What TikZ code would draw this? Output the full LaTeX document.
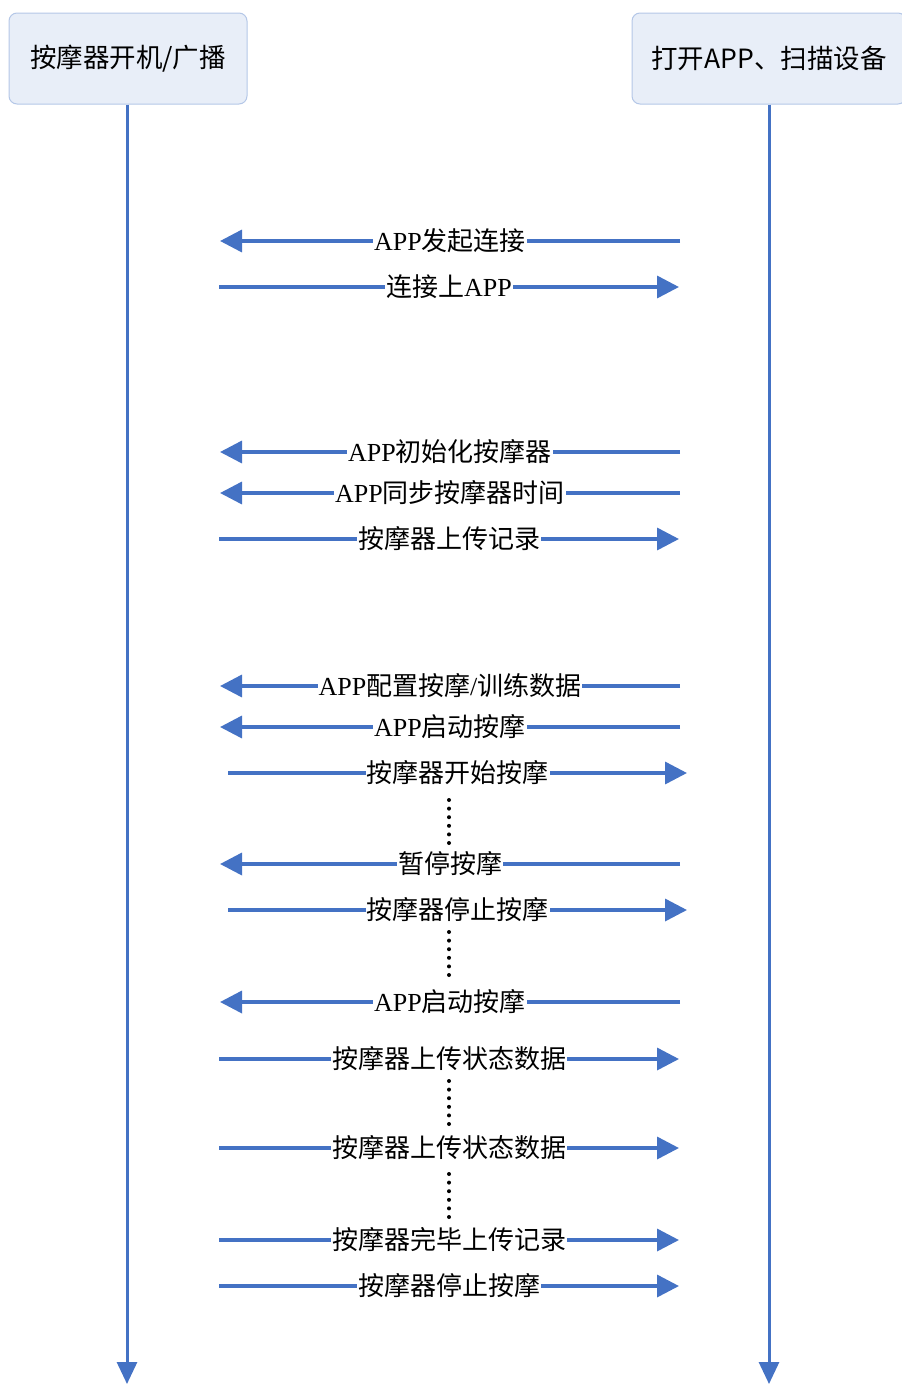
\documentclass[tikz,border=0pt]{standalone}
\usepackage{fontspec}
\setmainfont{Liberation Serif}
\newfontfamily\cjk{Noto Sans CJK SC}
\usetikzlibrary{arrows.meta}
\definecolor{lane}{HTML}{4472C4}
\definecolor{boxfill}{HTML}{E8EEF8}
\definecolor{boxline}{HTML}{B4C7E7}
\tikzset{box/.style={draw=boxline,fill=boxfill,rounded corners=8pt,line width=1pt,
  minimum height=91pt,font=\cjk\fontsize{26.5}{26.5}\selectfont}}
\tikzset{life/.style={draw=lane,line width=3pt,-{Triangle[length=22pt,width=20pt]}}}
\tikzset{msg/.style={draw=lane,line width=3.5pt,-{Triangle[length=22pt,width=22pt]}}}
\tikzset{lab/.style={fill=white,inner sep=1pt,font=\fontsize{26}{26}\selectfont}}
\tikzset{dots/.style={line width=4pt,line cap=round,dash pattern=on 0pt off 8.6pt}}

\begin{document}
\begin{tikzpicture}
  [x=1pt,y=-1pt]
  \useasboundingbox (0,0) rectangle (902,1384);
  % heads
  \node[box,minimum width=238pt] (dev) at (128,58.5) {按摩器开机/广播};
  \node[box,minimum width=274pt] (app) at (769,58.5) {打开APP、扫描设备};
  \coordinate (devend) at (127,1384);
  \coordinate (append) at (769,1384);
  \draw[life] (dev.south -| devend) -- (devend);
  \draw[life] (app.south -| append) -- (append);

  % connect
  \coordinate (a1) at (680,241); \coordinate (b1) at (220,241);
  \draw[msg] (a1) -- node[lab] {APP{\cjk 发起连接}} (b1);
  \coordinate (a2) at (219,287); \coordinate (b2) at (679,287);
  \draw[msg] (a2) -- node[lab] {{\cjk 连接上}APP} (b2);

  % init
  \coordinate (a3) at (680,452); \coordinate (b3) at (220,452);
  \draw[msg] (a3) -- node[lab] {APP{\cjk 初始化按摩器}} (b3);
  \coordinate (a4) at (680,493); \coordinate (b4) at (220,493);
  \draw[msg] (a4) -- node[lab] {APP{\cjk 同步按摩器时间}} (b4);
  \coordinate (a5) at (219,539); \coordinate (b5) at (679,539);
  \draw[msg] (a5) -- node[lab] {\cjk 按摩器上传记录} (b5);

  % run
  \coordinate (a6) at (680,686); \coordinate (b6) at (220,686);
  \draw[msg] (a6) -- node[lab] {APP{\cjk 配置按摩}/{\cjk 训练数据}} (b6);
  \coordinate (a7) at (680,727); \coordinate (b7) at (220,727);
  \draw[msg] (a7) -- node[lab] {APP{\cjk 启动按摩}} (b7);
  \coordinate (a8) at (228,773); \coordinate (b8) at (687,773);
  \draw[msg] (a8) -- node[lab] {\cjk 按摩器开始按摩} (b8);
  \coordinate (d1) at (449,800); \coordinate (e1) at (449,844);
  \draw[dots] (d1) -- (e1);
  \coordinate (a9) at (680,864); \coordinate (b9) at (220,864);
  \draw[msg] (a9) -- node[lab] {\cjk 暂停按摩} (b9);
  \coordinate (a10) at (228,910); \coordinate (b10) at (687,910);
  \draw[msg] (a10) -- node[lab] {\cjk 按摩器停止按摩} (b10);
  \coordinate (d2) at (449,932); \coordinate (e2) at (449,976);
  \draw[dots] (d2) -- (e2);
  \coordinate (a11) at (680,1002); \coordinate (b11) at (220,1002);
  \draw[msg] (a11) -- node[lab] {APP{\cjk 启动按摩}} (b11);
  \coordinate (a12) at (219,1059); \coordinate (b12) at (679,1059);
  \draw[msg] (a12) -- node[lab] {\cjk 按摩器上传状态数据} (b12);
  \coordinate (d3) at (449,1081); \coordinate (e3) at (449,1125);
  \draw[dots] (d3) -- (e3);
  \coordinate (a13) at (219,1148); \coordinate (b13) at (679,1148);
  \draw[msg] (a13) -- node[lab] {\cjk 按摩器上传状态数据} (b13);
  \coordinate (d4) at (449,1174); \coordinate (e4) at (449,1218);
  \draw[dots] (d4) -- (e4);
  \coordinate (a14) at (219,1240); \coordinate (b14) at (679,1240);
  \draw[msg] (a14) -- node[lab] {\cjk 按摩器完毕上传记录} (b14);
  \coordinate (a15) at (219,1286); \coordinate (b15) at (679,1286);
  \draw[msg] (a15) -- node[lab] {\cjk 按摩器停止按摩} (b15);
\end{tikzpicture}
\end{document}
